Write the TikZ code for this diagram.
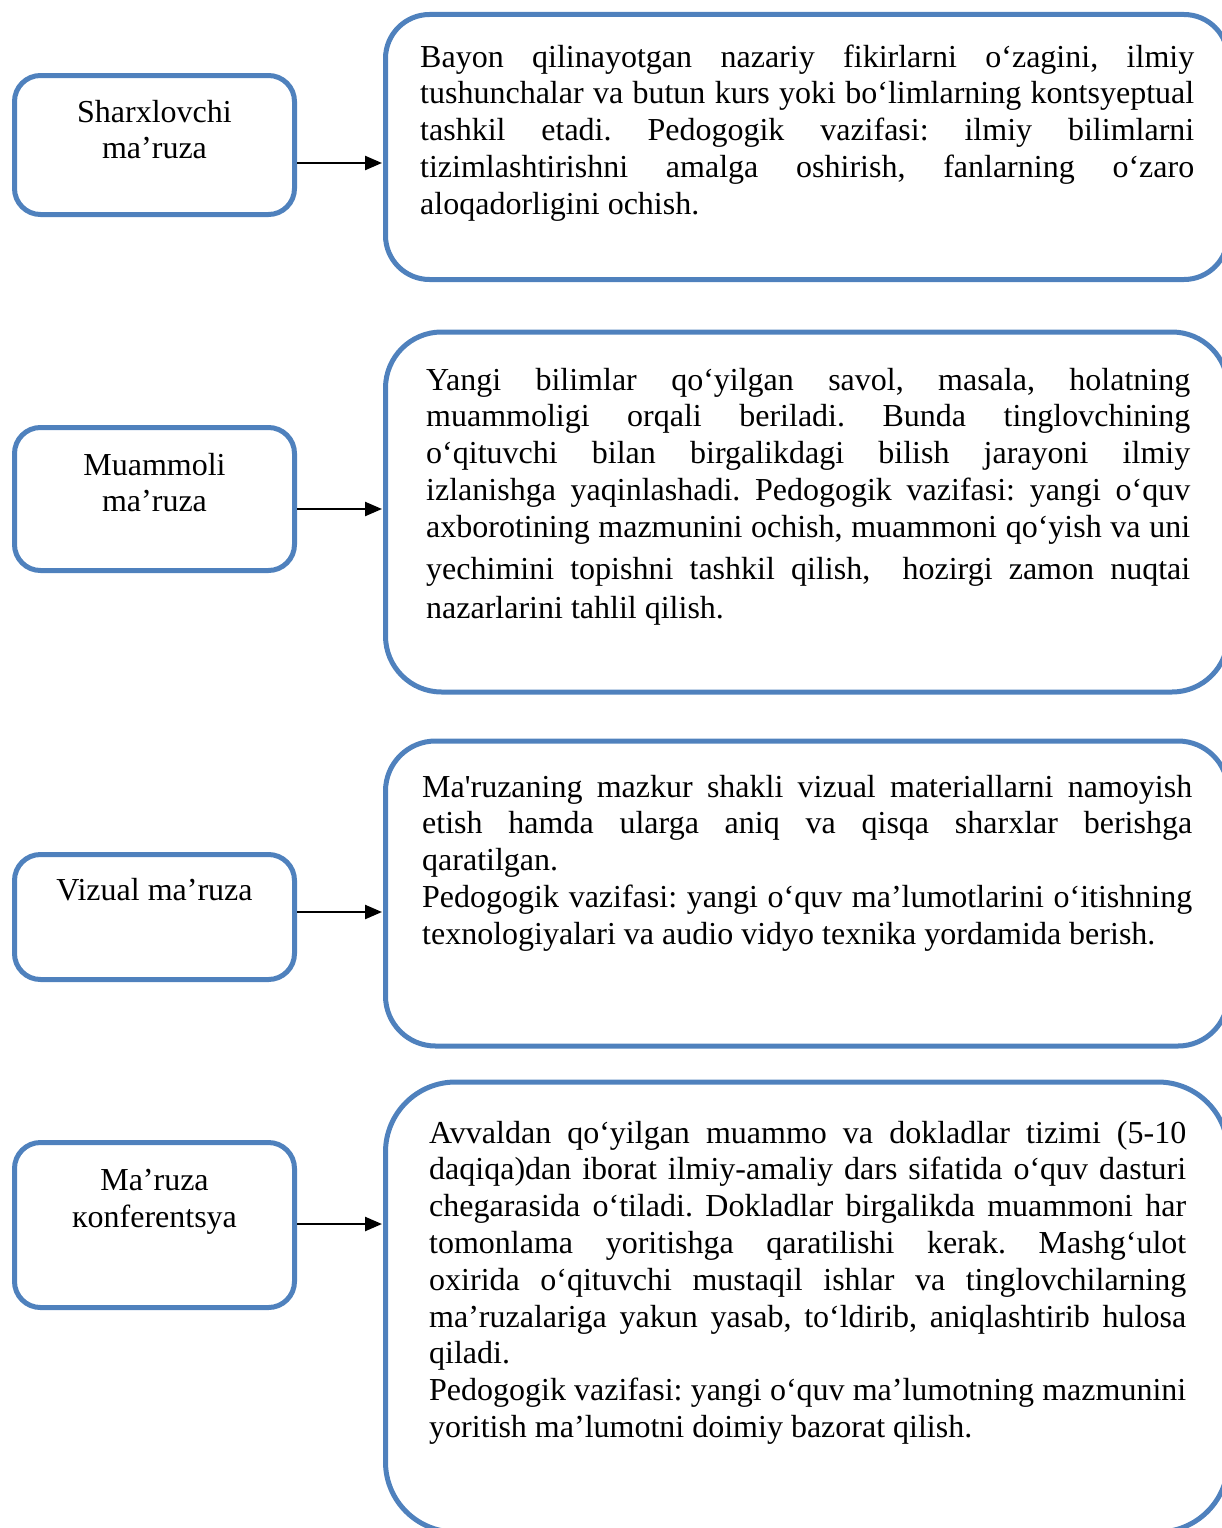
\documentclass[tikz,border=0pt]{standalone}
\usepackage{fontspec}
\setmainfont{Liberation Serif}
\usetikzlibrary{arrows.meta}
\definecolor{boxblue}{HTML}{4F81BD}
\newcommand{\bodysize}{\fontsize{32pt}{36.8pt}\selectfont\frenchspacing}
\newcommand{\jline}[1]{\makebox[\linewidth][s]{#1}\\}
\begin{document}
\begin{tikzpicture}[x=1pt,y=-1pt,
  lbox/.style={draw=boxblue, line width=5pt, rounded corners=26pt, minimum width=280pt, inner sep=0pt},
  rbox/.style={draw=boxblue, line width=5pt, minimum width=842.5pt, inner sep=0pt},
  txt/.style={anchor=base west, inner sep=0pt, font=\bodysize},
  ltxt/.style={anchor=base, inner sep=0pt, font=\bodysize},
  arr/.style={-{Triangle[length=17pt,width=14pt]}, line width=2.4pt, draw=black, shorten >=1pt},
]
\useasboundingbox (0,0) rectangle (1222,1528);
\clip (0,0) rectangle (1222,1528);

% left boxes
\node[lbox, minimum height=139pt] (L1) at (154.5,145) {};
\node[lbox, minimum height=143pt] (L2) at (154.5,499) {};
\node[lbox, minimum height=125pt] (L3) at (154.5,917) {};
\node[lbox, minimum height=165pt] (L4) at (154.5,1225) {};

\node[ltxt] (L1t) at (154.5,122) {\begin{minipage}[t]{280pt}\bodysize\centering Sharxlovchi\\ma’ruza\end{minipage}};
\node[ltxt] (L2t) at (154.5,475) {\begin{minipage}[t]{280pt}\bodysize\centering Muammoli\\ma’ruza\end{minipage}};
\node[ltxt] (L3t) at (154.5,900) {\begin{minipage}[t]{280pt}\bodysize\centering Vizual ma’ruza\end{minipage}};
\node[ltxt] (L4t) at (154.5,1190.5) {\begin{minipage}[t]{280pt}\bodysize\centering Ma’ruza\\кonferentsya\end{minipage}};

% right boxes
\node[rbox, rounded corners=44pt, minimum height=265pt] (R1) at (806.75,147) {};
\node[rbox, rounded corners=56pt, minimum height=360pt] (R2) at (806.75,512) {};
\node[rbox, rounded corners=50pt, minimum height=305pt] (R3) at (806.75,893.5) {};
\node[rbox, rounded corners=70pt, minimum height=450pt] (R4) at (806.75,1307) {};

\node[txt] (R1t) at (420,67) {\begin{minipage}[t]{774pt}\bodysize
\jline{Bayon qilinayotgan nazariy fikirlarni o‘zagini, ilmiy}
\jline{tushunchalar va butun kurs yoki bo‘limlarning kontsyeptual}
\jline{tashkil etadi. Pedogogik vazifasi: ilmiy bilimlarni}
\jline{tizimlashtirishni amalga oshirish, fanlarning o‘zaro}
aloqadorligini ochish.
\end{minipage}};

\node[txt] (R2t) at (426,390) {\begin{minipage}[t]{764pt}\bodysize
\jline{Yangi bilimlar qo‘yilgan savol, masala, holatning}
\jline{muammoligi orqali beriladi. Bunda tinglovchining}
\jline{o‘qituvchi bilan birgalikdagi bilish jarayoni ilmiy}
\jline{izlanishga yaqinlashadi. Pedogogik vazifasi: yangi o‘quv}
\makebox[\linewidth][s]{axborotining mazmunini ochish, muammoni qo‘yish va uni}\\[5pt]
\makebox[\linewidth][s]{yechimini topishni tashkil qilish,\ \ hozirgi zamon nuqtai}\\[3pt]
nazarlarini tahlil qilish.
\end{minipage}};

\node[txt] (R3t) at (422,797) {\begin{minipage}[t]{770pt}\bodysize
\jline{Ma\textquotesingle ruzaning mazkur shakli vizual materiallarni namoyish}
\jline{etish hamda ularga aniq va qisqa sharxlar berishga}
qaratilgan.\\
\jline{Pedogogik vazifasi: yangi o‘quv ma’lumotlarini o‘itishning}
texnologiyalari va audio vidyo texnika yordamida berish.
\end{minipage}};

\node[txt] (R4t) at (429,1143) {\begin{minipage}[t]{757pt}\bodysize
\jline{Avvaldan qo‘yilgan muammo va dokladlar tizimi (5-10}
\jline{daqiqa)dan iborat ilmiy-amaliy dars sifatida o‘quv dasturi}
\jline{chegarasida o‘tiladi. Dokladlar birgalikda muammoni har}
\jline{tomonlama yoritishga qaratilishi kerak. Mashg‘ulot}
\jline{oxirida o‘qituvchi mustaqil ishlar va tinglovchilarning}
\jline{ma’ruzalariga yakun yasab, to‘ldirib, aniqlashtirib hulosa}
qiladi.\\
\jline{Pedogogik vazifasi: yangi o‘quv ma’lumotning mazmunini}
yoritish ma’lumotni doimiy bazorat qilish.
\end{minipage}};

% arrows
\coordinate (a1) at (0,163);
\coordinate (a2) at (0,509);
\coordinate (a3) at (0,912);
\coordinate (a4) at (0,1224);
\draw[arr] (L1.east |- a1) -- (R1.west |- a1);
\draw[arr] (L2.east |- a2) -- (R2.west |- a2);
\draw[arr] (L3.east |- a3) -- (R3.west |- a3);
\draw[arr] (L4.east |- a4) -- (R4.west |- a4);
\end{tikzpicture}
\end{document}
